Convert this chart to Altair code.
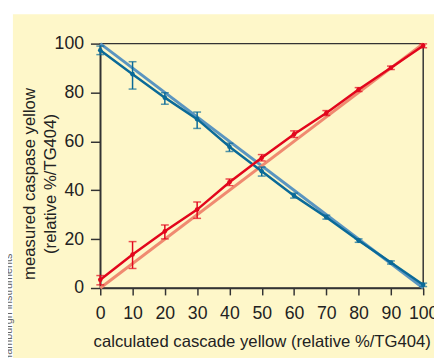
import altair as alt
import pandas as pd

# ---- data ----
x_vals = [0, 10, 20, 30, 40, 50, 60, 70, 80, 90, 100]
blue_mean = [97.3, 87.5, 77.9, 69.1, 57.8, 47.8, 37.8, 29.0, 19.4, 10.4, 1.3]
blue_lo = [95.5, 81.4, 75.2, 65.3, 55.9, 45.8, 36.8, 28.2, 18.7, 9.8, 0.6]
blue_hi = [99.0, 92.6, 79.9, 72.0, 59.2, 49.5, 38.8, 29.8, 20.1, 11.1, 2.0]
red_mean = [3.4, 13.7, 23.2, 32.1, 43.3, 53.3, 62.9, 71.6, 81.2, 90.1, 99.1]
red_lo = [1.3, 8.0, 20.1, 28.5, 41.9, 52.0, 61.6, 70.6, 80.4, 89.4, 98.3]
red_hi = [5.1, 19.0, 25.8, 35.2, 44.6, 54.6, 64.3, 72.6, 82.0, 90.8, 99.9]
ideal_x = [0, 100]
ideal_blue = [100, 0]
ideal_red = [0, 100]
x_ticks = [0, 10, 20, 30, 40, 50, 60, 70, 80, 90, 100]
y_ticks = [0, 20, 40, 60, 80, 100]
x_title = "calculated cascade yellow (relative %/TG404)"
y_title = ["measured caspase yellow", "(relative %/TG404)"]
credit = "Hamburgh instruments"

W, H = 329, 249

meas = pd.DataFrame({
    "x": x_vals * 2,
    "mean": blue_mean + red_mean,
    "lo": blue_lo + red_lo,
    "hi": blue_hi + red_hi,
    "series": ["blue"] * len(x_vals) + ["red"] * len(x_vals),
})
ideal = pd.DataFrame({
    "x": ideal_x * 2,
    "y": ideal_blue + ideal_red,
    "series": ["blue_ideal"] * 2 + ["red_ideal"] * 2,
})

color = alt.Scale(domain=["blue", "red", "blue_ideal", "red_ideal"],
                  range=["#0A6A98", "#E2061C", "#5A95C0", "#F08A70"])
xs = alt.Scale(domain=[0, 100], nice=False, zero=False)
ys = alt.Scale(domain=[0, 100], nice=False)

ax_common = dict(grid=False, domainColor="#333333", tickColor="#333333",
                 domainWidth=1.5, tickWidth=1.5, labelColor="#222222",
                 titleColor="#222222", labelFont="Liberation Sans",
                 titleFont="Liberation Sans", titleFontWeight="normal",
                 labelFlush=False, labelOverlap=False)

x_axis = alt.Axis(values=x_ticks, tickSize=7, labelFontSize=18,
                  labelBaseline="alphabetic", labelPadding=24,
                  title=x_title, titleFontSize=17, titleBaseline="alphabetic",
                  titleY=60, **ax_common)
y_axis = alt.Axis(values=y_ticks, tickSize=10, labelFontSize=18, labelPadding=7,
                  title=y_title, titleFontSize=17, titleAngle=270,
                  titleBaseline="alphabetic", titleAlign="center",
                  titleX=-67, titleY=142.5, titleLineHeight=21, **ax_common)

X = alt.X("x:Q", scale=xs, axis=x_axis)
col = alt.Color("series:N", scale=color, legend=None)

ideal_lines = alt.Chart(ideal).mark_line(strokeWidth=3).encode(
    x=X, y=alt.Y("y:Q", scale=ys, axis=y_axis), color=col, detail="series:N",
)

base = alt.Chart(meas)
meas_lines = base.mark_line(strokeWidth=2.5).encode(
    x=X, y=alt.Y("mean:Q", scale=ys, axis=y_axis), color=col,
)
bars = base.mark_rule(strokeWidth=1.5).encode(
    x=X, y=alt.Y("lo:Q", scale=ys, axis=y_axis), y2="hi:Q", color=col,
)
caps_lo = base.mark_tick(orient="horizontal", size=8, thickness=1.5).encode(
    x=X, y=alt.Y("lo:Q", scale=ys, axis=y_axis), color=col,
)
caps_hi = base.mark_tick(orient="horizontal", size=8, thickness=1.5).encode(
    x=X, y=alt.Y("hi:Q", scale=ys, axis=y_axis), color=col,
)
points = base.mark_point(filled=True, size=22, opacity=1).encode(
    x=X, y=alt.Y("mean:Q", scale=ys, axis=y_axis), color=col,
)

one = pd.DataFrame({"a": [0]})
top_strip = alt.Chart(one).mark_rect(color="white").encode(
    x=alt.value(-100), x2=alt.value(W + 20), y=alt.value(-40), y2=alt.value(-30))
left_strip = alt.Chart(one).mark_rect(color="white").encode(
    x=alt.value(-100), x2=alt.value(-89), y=alt.value(-40), y2=alt.value(H + 80))
credit_text = alt.Chart(one).mark_text(
    angle=270, align="left", baseline="alphabetic", fontSize=11,
    font="Liberation Sans", color="#666666").encode(
    x=alt.value(-90), y=alt.value(325), text=alt.value(credit))

chart = alt.layer(
    ideal_lines, meas_lines, bars, caps_lo, caps_hi, points,
    top_strip, left_strip, credit_text,
).properties(
    width=W, height=H,
    autosize=alt.AutoSizeParams(type="none"),
    padding={"left": 94, "top": 33, "right": 11, "bottom": 68},
    background="#FEF7C9",
).configure_view(stroke="#333333", strokeWidth=1.5)

chart.save("out.html", embed_options={"renderer": "svg", "actions": False})
